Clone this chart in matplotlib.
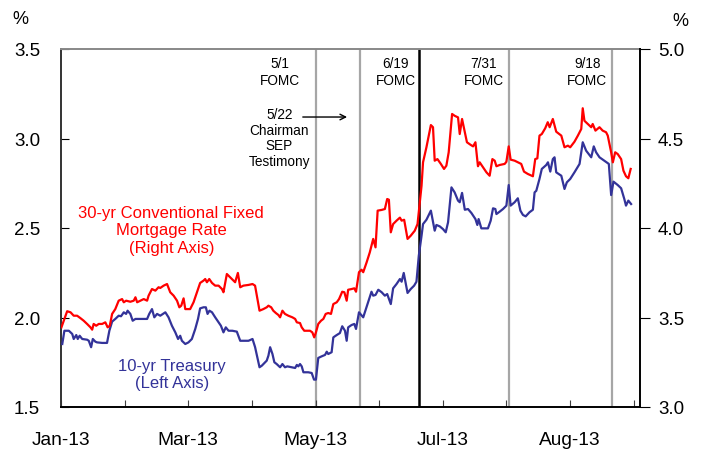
import matplotlib
matplotlib.use("Agg")
import matplotlib.pyplot as plt

plt.rcParams['font.family'] = ['Liberation Sans', 'DejaVu Sans']

# x positions: days since 1 Jan 2013
t10 = [0.6, 1.6, 3.7, 5.3, 6.0, 7.2, 7.9, 8.8, 10.0, 12.3,
       13.1, 14.2, 15.0, 16.2, 17.0, 19.4, 21.7, 22.8, 24.1, 25.6,
       27.2, 28.3, 29.6, 30.7, 31.4, 32.7, 33.8, 35.1, 36.6, 38.5,
       40.6, 41.6, 42.9, 44.0, 45.3, 46.8, 49.2, 50.7, 52.3, 53.9,
       55.2, 56.2, 57.0, 58.6, 60.1, 61.7, 63.3, 64.6, 65.6, 67.2,
       68.3, 69.1, 70.0, 71.2, 72.7, 74.3, 75.4, 76.6, 77.7, 79.0,
       80.8, 82.9, 84.5, 86.0, 88.4, 90.3, 91.5, 93.6, 94.7, 97.0,
       97.8, 98.6, 99.7, 100.6, 101.7, 103.3, 104.4, 105.6, 106.7, 108.8,
       110.4, 111.2, 111.9, 112.7, 113.5, 114.3, 116.6, 118.2, 119.3, 120.2,
       121.3, 122.9, 124.5, 125.3, 126.0, 127.6, 128.4, 130.0, 131.5, 132.6,
       133.9, 134.7, 135.4, 137.0, 138.3, 139.1, 140.5, 142.5, 144.8, 146.4,
       147.2, 148.3, 149.6, 151.2, 152.7, 153.8, 155.5, 156.6, 158.2, 159.8,
       160.6, 161.6, 163.4, 164.9, 166.5, 167.6, 168.7, 170.0, 170.7, 172.3,
       174.4, 176.2, 177.0, 178.6, 180.1, 181.4, 182.5, 184.1, 185.6, 187.2,
       188.0, 189.1, 190.4, 191.9, 193.5, 195.4, 196.3, 196.9, 198.2, 199.8,
       201.3, 202.6, 203.7, 204.8, 205.3, 206.8, 208.4, 210.0, 211.1, 212.0,
       213.9, 215.4, 216.6, 217.8, 219.1, 220.9, 222.5, 223.3, 224.1, 225.6,
       226.7, 228.8, 229.6, 230.7, 231.9, 232.7, 233.5, 235.9, 237.4, 238.5,
       240.1, 242.1, 244.5, 246.0, 247.6, 250.0, 251.2, 252.3, 253.9, 256.2,
       258.3, 259.4, 260.5, 262.5, 264.1, 265.6, 266.4, 267.5, 268.8]
treasury_10y = [1.852, 1.926, 1.926, 1.908, 1.880, 1.902, 1.880, 1.898, 1.880, 1.876,
                1.870, 1.834, 1.880, 1.865, 1.861, 1.858, 1.858, 1.926, 1.977, 1.992,
                2.010, 2.007, 2.029, 2.020, 2.038, 2.020, 1.982, 1.992, 1.992, 1.992,
                1.992, 2.020, 2.047, 2.001, 2.020, 2.010, 2.029, 2.001, 1.954, 1.917,
                1.880, 1.898, 1.870, 1.852, 1.861, 1.880, 1.936, 1.992, 2.051, 2.057,
                2.057, 2.020, 2.038, 2.029, 2.001, 1.973, 1.954, 1.917, 1.945, 1.926,
                1.926, 1.921, 1.870, 1.870, 1.870, 1.880, 1.835, 1.722, 1.731, 1.759,
                1.787, 1.834, 1.796, 1.750, 1.740, 1.722, 1.740, 1.722, 1.727, 1.722,
                1.718, 1.735, 1.727, 1.740, 1.727, 1.694, 1.694, 1.690, 1.653, 1.653,
                1.774, 1.783, 1.791, 1.809, 1.796, 1.806, 1.889, 1.902, 1.913, 1.951,
                1.926, 1.870, 1.945, 1.958, 1.964, 1.936, 2.029, 2.001, 2.085, 2.144,
                2.122, 2.126, 2.155, 2.141, 2.122, 2.131, 2.075, 2.163, 2.187, 2.215,
                2.200, 2.249, 2.137, 2.159, 2.178, 2.200, 2.345, 2.457, 2.522, 2.546,
                2.597, 2.485, 2.517, 2.509, 2.494, 2.476, 2.532, 2.727, 2.699, 2.653,
                2.644, 2.696, 2.602, 2.606, 2.584, 2.550, 2.517, 2.550, 2.498, 2.498,
                2.498, 2.541, 2.610, 2.606, 2.578, 2.591, 2.606, 2.625, 2.740, 2.625,
                2.644, 2.666, 2.597, 2.573, 2.565, 2.588, 2.602, 2.699, 2.708, 2.774,
                2.830, 2.852, 2.867, 2.815, 2.885, 2.895, 2.811, 2.792, 2.718, 2.755,
                2.774, 2.811, 2.858, 2.979, 2.932, 2.895, 2.956, 2.923, 2.895, 2.876,
                2.858, 2.684, 2.759, 2.740, 2.722, 2.662, 2.625, 2.653, 2.634]

tmtg = [0.2, 1.3, 2.9, 4.5, 6.0, 7.6, 9.2, 10.7, 12.3, 13.9,
        14.7, 15.4, 16.6, 17.8, 19.4, 20.9, 22.0, 23.0, 24.1, 25.6,
        27.2, 28.8, 29.6, 30.7, 32.7, 34.3, 35.1, 35.9, 37.4, 39.0,
        40.6, 41.3, 42.9, 44.5, 46.0, 46.8, 48.4, 50.0, 51.5, 53.1,
        54.7, 55.8, 56.7, 57.8, 58.6, 60.9, 62.5, 64.1, 65.6, 67.2,
        68.0, 68.8, 69.9, 71.2, 72.7, 74.3, 75.9, 76.6, 78.2, 80.6,
        82.1, 83.4, 84.5, 86.0, 88.4, 90.3, 91.5, 93.6, 95.4, 97.0,
        97.8, 99.1, 100.1, 101.3, 102.5, 103.3, 104.4, 105.6, 107.2, 109.1,
        110.4, 111.2, 112.7, 113.5, 114.7, 117.4, 118.5, 119.4, 120.2, 121.3,
        122.6, 123.7, 124.8, 126.0, 127.3, 128.4, 130.0, 131.1, 132.6, 133.6,
        134.7, 135.4, 137.0, 138.3, 139.1, 140.5, 141.7, 142.5, 144.1, 145.6,
        147.2, 148.3, 149.3, 151.2, 152.7, 153.8, 154.6, 155.5, 156.6, 158.2,
        159.8, 160.6, 161.8, 163.4, 164.9, 166.8, 168.1, 168.7, 170.0, 170.7,
        172.3, 174.4, 175.4, 176.2, 177.5, 179.1, 180.6, 181.7, 182.8, 184.4,
        185.6, 187.2, 188.0, 189.1, 190.4, 191.4, 193.2, 194.3, 195.4, 196.6,
        197.4, 199.0, 200.6, 202.1, 203.4, 204.5, 205.3, 206.8, 209.2, 210.0,
        211.1, 212.0, 213.9, 216.2, 217.0, 218.3, 220.1, 222.5, 223.6, 224.6,
        225.6, 226.7, 228.3, 229.5, 230.4, 231.9, 233.5, 235.9, 237.4, 239.0,
        240.1, 242.1, 243.7, 245.3, 246.0, 246.8, 248.4, 250.0, 250.7, 252.0,
        253.9, 255.4, 257.0, 257.8, 258.6, 259.4, 260.2, 261.3, 262.5, 264.1,
        265.2, 266.4, 267.5, 268.6]
mortgage_30y = [3.445, 3.482, 3.535, 3.529, 3.510, 3.510, 3.496, 3.482, 3.464, 3.445,
                3.432, 3.464, 3.454, 3.464, 3.464, 3.473, 3.445, 3.454, 3.520, 3.547,
                3.594, 3.603, 3.585, 3.594, 3.588, 3.594, 3.613, 3.585, 3.594, 3.603,
                3.594, 3.622, 3.659, 3.650, 3.669, 3.665, 3.678, 3.687, 3.641, 3.622,
                3.594, 3.557, 3.566, 3.607, 3.547, 3.547, 3.585, 3.641, 3.693, 3.706,
                3.715, 3.697, 3.715, 3.693, 3.678, 3.678, 3.659, 3.641, 3.743, 3.715,
                3.697, 3.749, 3.669, 3.678, 3.682, 3.687, 3.678, 3.538, 3.547, 3.557,
                3.566, 3.557, 3.538, 3.525, 3.514, 3.501, 3.538, 3.520, 3.510, 3.501,
                3.492, 3.473, 3.469, 3.445, 3.426, 3.426, 3.417, 3.389, 3.417, 3.464,
                3.482, 3.492, 3.520, 3.525, 3.520, 3.575, 3.585, 3.603, 3.644, 3.641,
                3.594, 3.655, 3.659, 3.663, 3.644, 3.753, 3.767, 3.753, 3.808, 3.864,
                3.939, 3.892, 4.097, 4.101, 4.106, 4.162, 4.158, 3.976, 4.022, 4.041,
                4.058, 4.041, 4.046, 3.939, 3.957, 3.985, 4.022, 4.088, 4.236, 4.367,
                4.451, 4.575, 4.563, 4.376, 4.385, 4.358, 4.330, 4.348, 4.423, 4.637,
                4.627, 4.618, 4.525, 4.609, 4.535, 4.479, 4.464, 4.456, 4.479, 4.345,
                4.367, 4.339, 4.311, 4.292, 4.385, 4.376, 4.345, 4.352, 4.358, 4.370,
                4.456, 4.382, 4.376, 4.363, 4.358, 4.315, 4.302, 4.289, 4.385, 4.389,
                4.516, 4.525, 4.557, 4.591, 4.563, 4.609, 4.538, 4.516, 4.451, 4.460,
                4.451, 4.482, 4.516, 4.553, 4.669, 4.599, 4.581, 4.563, 4.581, 4.544,
                4.563, 4.544, 4.535, 4.516, 4.469, 4.423, 4.367, 4.423, 4.413, 4.385,
                4.320, 4.289, 4.278, 4.330]

x_ticks = [0, 30, 60, 90, 120, 150, 180, 210, 240, 270]
x_labels = ['Jan-13', '', 'Mar-13', '', 'May-13', '', 'Jul-13', '', 'Aug-13', '']
left_ticks = [1.5, 2.0, 2.5, 3.0, 3.5]
right_ticks = [3.0, 3.5, 4.0, 4.5, 5.0]

event_days = [120, 141, 169, 211, 260]
event_colors = ['#a6a6a6', '#a6a6a6', '#000000', '#a6a6a6', '#a6a6a6']
fomc_labels = ['5/1\nFOMC', '6/19\nFOMC', '7/31\nFOMC', '9/18\nFOMC']
fomc_label_days = [103, 157.9, 199.3, 248.2]

RED = '#ff0000'
BLUE = '#333399'

fig = plt.figure(figsize=(7.05, 4.56), dpi=100)
ax = fig.add_axes([61/705, 48/456, 579/705, 358/456])
ax2 = ax.twinx()

for d, c in zip(event_days, event_colors):
    ax.axvline(d, color=c, lw=1.6 if c != '#000000' else 1.8, zorder=1)

ax.plot(t10, treasury_10y, color=BLUE, lw=1.6, zorder=3)
ax2.plot(tmtg, mortgage_30y, color=RED, lw=1.6, zorder=3)

ax.set_xlim(0, 273)
ax.set_ylim(1.5, 3.5)
ax2.set_ylim(3.0, 5.0)

ax.set_xticks(x_ticks)
ax.set_xticklabels(x_labels)
ax.tick_params(axis='x', direction='in', length=5, width=0.8, color='#404040',
               pad=17, labelsize=13.8, labelcolor='black')

ax.set_yticks(left_ticks)
ax.set_yticklabels([f'{v:.1f}' for v in left_ticks])
ax.tick_params(axis='y', direction='in', length=6, width=0.8, pad=15, labelsize=13.5)

ax2.set_yticks(right_ticks)
ax2.set_yticklabels([f'{v:.1f}' for v in right_ticks])
ax2.tick_params(axis='y', direction='out', length=7, width=0.8, pad=6, labelsize=13.5)

ax.spines['top'].set_color('#888888')
ax.spines['top'].set_linewidth(1.4)
ax.spines['left'].set_color('#333333')
ax.spines['left'].set_linewidth(1.4)
ax.spines['bottom'].set_color('black')
ax.spines['bottom'].set_linewidth(1.4)
ax.spines['right'].set_visible(False)
ax2.spines['top'].set_visible(False)
ax2.spines['left'].set_visible(False)
ax2.spines['bottom'].set_visible(False)
ax2.spines['right'].set_color('black')
ax2.spines['right'].set_linewidth(1.4)

for lab, d in zip(fomc_labels, fomc_label_days):
    ax.text(d, 3.374, lab, ha='center', va='center', fontsize=9.8,
            multialignment='center', zorder=5)
ax.text(103, 3.006, '5/22\nChairman\nSEP\nTestimony', ha='center', va='center',
        fontsize=9.8, multialignment='center', linespacing=1.15, zorder=5)
ax.annotate('', xy=(136.2, 3.12), xytext=(112.7, 3.12),
            arrowprops=dict(arrowstyle='->', color='black', lw=1.0))

ax.text(52, 2.49, '30-yr Conventional Fixed\nMortgage Rate\n(Right Axis)',
        ha='center', va='center', color=RED, fontsize=12, multialignment='center',
        linespacing=1.2)
ax.text(52.5, 1.684, '10-yr Treasury\n(Left Axis)', ha='center', va='center',
        color=BLUE, fontsize=12, multialignment='center', linespacing=1.2)

fig.text(20/705, 1 - 20/456, '%', ha='center', va='center', fontsize=13)
fig.text(680/705, 1 - 21/456, '%', ha='center', va='center', fontsize=13)

fig.savefig('out.png', dpi=100)
